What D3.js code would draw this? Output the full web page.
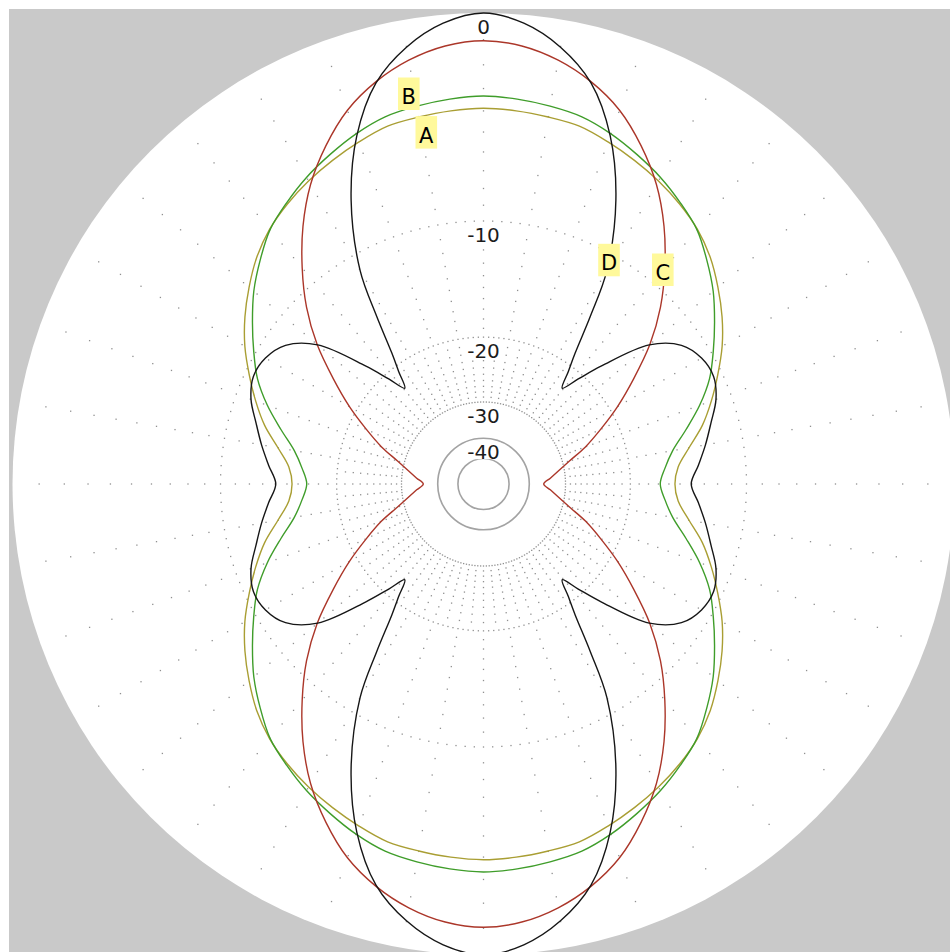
<!DOCTYPE html>
<html>
<head>
<meta charset="utf-8">
<script src="https://cdn.jsdelivr.net/npm/d3@7"></script>
<style>
  html, body { margin: 0; padding: 0; background: #fff; overflow: hidden; }
  svg { display: block; }
</style>
</head>
<body>
<svg id="chart" width="950" height="952"></svg>
<script>
// Azimuth angles in degrees, clockwise from the top of the plot
const angles = [
  0, 5, 10, 15, 20, 25, 30, 35, 40, 45, 50, 55, 60, 65, 70, 75, 80, 85,
  90, 95, 100, 105, 110, 115, 120, 125, 130, 135, 140, 145, 150, 155, 160, 165, 170, 175,
  180, 185, 190, 195, 200, 205, 210, 215, 220, 225, 230, 235, 240, 245, 250, 255, 260, 265,
  270, 275, 280, 285, 290, 295, 300, 305, 310, 315, 320, 325, 330, 335, 340, 345, 350, 355
];

// Relative gain in dB for each trace
const gainA = [
  -3.88, -3.93, -4.02, -4.12, -4.42, -4.75, -5.1, -5.5, -5.97, -6.6, -7.4, -8.25, -9.2, -10.3, -11.4, -12.56, -13.97, -15.1,
  -15.45, -15.1, -13.97, -12.56, -11.4, -10.3, -9.2, -8.25, -7.4, -6.6, -5.97, -5.5, -5.1, -4.75, -4.42, -4.12, -4.02, -3.93,
  -3.88, -3.93, -4.02, -4.12, -4.42, -4.75, -5.1, -5.5, -5.97, -6.6, -7.4, -8.25, -9.2, -10.3, -11.4, -12.56, -13.97, -15.1,
  -15.45, -15.1, -13.97, -12.56, -11.4, -10.3, -9.2, -8.25, -7.4, -6.6, -5.97, -5.5, -5.1, -4.75, -4.42, -4.12, -4.02, -3.93
];
const gainB = [
  -3.33, -3.4, -3.52, -3.68, -4.02, -4.45, -4.9, -5.43, -6.0, -6.85, -7.75, -8.8, -9.85, -10.91, -12.3, -13.9, -15.39, -16.3,
  -16.82, -16.3, -15.39, -13.9, -12.3, -10.91, -9.85, -8.8, -7.75, -6.85, -6.0, -5.43, -4.9, -4.45, -4.02, -3.68, -3.52, -3.4,
  -3.33, -3.4, -3.52, -3.68, -4.02, -4.45, -4.9, -5.43, -6.0, -6.85, -7.75, -8.8, -9.85, -10.91, -12.3, -13.9, -15.39, -16.3,
  -16.82, -16.3, -15.39, -13.9, -12.3, -10.91, -9.85, -8.8, -7.75, -6.85, -6.0, -5.43, -4.9, -4.45, -4.02, -3.68, -3.52, -3.4
];
const gainC = [
  -1.04, -1.18, -1.55, -2.12, -2.9, -4.0, -5.3, -6.92, -8.8, -10.85, -13.28, -16.2, -19.1, -22.2, -25.2, -28.6, -31.25, -33.45,
  -35.3, -33.45, -31.25, -28.6, -25.2, -22.2, -19.1, -16.2, -13.28, -10.85, -8.8, -6.92, -5.3, -4.0, -2.9, -2.12, -1.55, -1.18,
  -1.04, -1.18, -1.55, -2.12, -2.9, -4.0, -5.3, -6.92, -8.8, -10.85, -13.28, -16.2, -19.1, -22.2, -25.2, -28.6, -31.25, -33.45,
  -35.3, -33.45, -31.25, -28.6, -25.2, -22.2, -19.1, -16.2, -13.28, -10.85, -8.8, -6.92, -5.3, -4.0, -2.9, -2.12, -1.55, -1.18
];

// Trace D has sharp nulls, so it is sampled more finely around them
const anglesD = [
  0, 5, 10, 15, 20, 25, 30, 32.5, 35, 37, 39.4, 42, 45, 50, 55, 60, 65, 70, 75, 80, 85,
  90, 95, 100, 105, 110, 115, 120, 125, 130, 135, 138, 140.6, 143, 145, 147.5, 150, 155, 160, 165, 170, 175,
  180, 185, 190, 195, 200, 205, 210, 212.5, 215, 217, 219.4, 222, 225, 230, 235, 240, 245, 250, 255, 260, 265,
  270, 275, 280, 285, 290, 295, 300, 305, 310, 315, 318, 320.6, 323, 325, 327.5, 330, 335, 340, 345, 350, 355
];
const gainD = [
  0, -0.31, -1.03, -2.16, -4.12, -7.0, -11.08, -14.8, -18.55, -20.7, -22.9, -20.7, -17.8, -13.35, -11.45, -10.75, -10.6, -11.05, -11.9, -12.65, -13.4,
  -14.05, -13.4, -12.65, -11.9, -11.05, -10.6, -10.75, -11.45, -13.35, -17.8, -20.7, -22.9, -20.7, -18.55, -14.8, -11.08, -7.0, -4.12, -2.16, -1.03, -0.31,
  0, -0.31, -1.03, -2.16, -4.12, -7.0, -11.08, -14.8, -18.55, -20.7, -22.9, -20.7, -17.8, -13.35, -11.45, -10.75, -10.6, -11.05, -11.9, -12.65, -13.4,
  -14.05, -13.4, -12.65, -11.9, -11.05, -10.6, -10.75, -11.45, -13.35, -17.8, -20.7, -22.9, -20.7, -18.55, -14.8, -11.08, -7.0, -4.12, -2.16, -1.03, -0.31
];

const seriesNames = ["A", "B", "C", "D"];
const ringLevels = [0, -10, -20, -30, -40];
const ringLabels = ["0", "-10", "-20", "-30", "-40"];

// ---- layout ----
const W = 950, H = 952;
const cx = 483.5, cy = 484, R = 471;
const colors = { A: "#a99e33", B: "#3f9d2a", C: "#ab3629", D: "#161616" };
// trace-letter tags, offsets from the plot centre (box centre x, text baseline y)
const tagSpots = {
  A: [-57.2, -341.4],
  B: [-74.7, -380],
  C: [179.3, -204],
  D: [125.5, -213.7]
};

const svg = d3.select("#chart");

// ARRL-style log radial scale: radius shrinks by 0.89 every 2 dB
const logScale = d3.scaleLog()
  .domain([R * Math.pow(0.89, 25), R])
  .range([-50, 0]);
const radius = dB => logScale.invert(dB);
const angleScale = d3.scaleLinear().domain([0, 360]).range([0, 2 * Math.PI]);

const toXY = (deg, r) => {
  const a = angleScale(deg);
  return [r * Math.sin(a), -r * Math.cos(a)];
};

// window background
svg.append("rect").attr("x", 9).attr("y", 9)
  .attr("width", W - 9).attr("height", H - 9).attr("fill", "#c9c9c9");

const g = svg.append("g").attr("transform", `translate(${cx},${cy})`);

g.append("circle").attr("r", radius(0)).attr("fill", "#fff");

// ---- grid ----
// 10-degree spokes run from -1 dB in to -29 dB; the extra 5-degree spokes
// only fill the band between the -20 and -30 dB rings. One dot per dB.
const grid = g.append("g");
const dots = [];
d3.range(0, 360, 5).forEach(a => {
  const levels = a % 10 === 0
    ? d3.range(-1, -30, -1).filter(l => l !== -10 && l !== -20)
    : d3.range(-21, -30, -1);
  levels.forEach(l => dots.push(toXY(a, radius(l))));
});
[-10, -20, -30].forEach(l => {
  d3.range(0, 360, 2).forEach(a => dots.push(toXY(a, radius(l))));
});
grid.selectAll("rect.dot").data(dots).join("rect")
  .attr("class", "dot")
  .attr("x", d => d[0] - 0.65).attr("y", d => d[1] - 0.65)
  .attr("width", 1.3).attr("height", 1.3)
  .attr("fill", "#909090");

[-40, -50].forEach(l => {
  grid.append("circle").attr("r", radius(l))
    .attr("fill", "none").attr("stroke", "#a3a3a3").attr("stroke-width", 1.6);
});

// ---- traces ----
const series = [
  { name: seriesNames[0], ang: angles, gain: gainA },
  { name: seriesNames[1], ang: angles, gain: gainB },
  { name: seriesNames[2], ang: angles, gain: gainC },
  { name: seriesNames[3], ang: anglesD, gain: gainD }
];

const radial = d3.lineRadial()
  .angle(d => angleScale(d[0]))
  .radius(d => radius(d[1]))
  .curve(d3.curveCatmullRomClosed.alpha(0.5));

g.append("g").selectAll("path").data(series).join("path")
  .attr("d", s => radial(s.ang.map((a, i) => [a, s.gain[i]])))
  .attr("fill", "none")
  .attr("stroke", s => colors[s.name])
  .attr("stroke-width", 1.4)
  .attr("stroke-linejoin", "round");

// ---- ring labels ----
const labelG = g.append("g")
  .attr("font-family", "'DejaVu Sans', sans-serif")
  .attr("font-size", 20)
  .attr("fill", "#1c1c1c");
ringLevels.forEach((l, i) => {
  const y = -radius(l) + 20.5;
  const bg = labelG.append("rect").attr("fill", "#fff");
  const t = labelG.append("text")
    .attr("x", 0).attr("y", y)
    .attr("text-anchor", "middle")
    .text(ringLabels[i]);
  const bb = t.node().getBBox();
  bg.attr("x", bb.x - 1).attr("y", y - 16)
    .attr("width", bb.width + 2).attr("height", 16.5);
});

// ---- trace tags ----
const tagG = g.append("g")
  .attr("font-family", "'DejaVu Sans', sans-serif")
  .attr("font-size", 21);
seriesNames.forEach(n => {
  const [dx, dy] = tagSpots[n];
  const tg = tagG.append("g").attr("transform", `translate(${dx},${dy})`);
  tg.append("rect")
    .attr("x", -10.8).attr("y", -26.5)
    .attr("width", 21.6).attr("height", 32.5)
    .attr("fill", "#fff99b");
  tg.append("text")
    .attr("x", 0).attr("y", 0)
    .attr("text-anchor", "middle")
    .attr("fill", "#000")
    .text(n);
});
</script>
</body>
</html>
